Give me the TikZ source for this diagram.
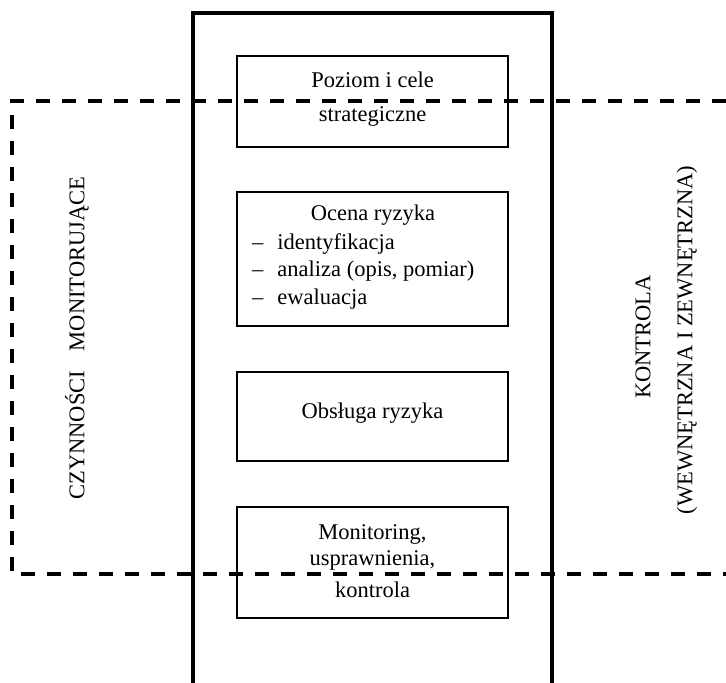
\documentclass[tikz,border=0pt]{standalone}
\usepackage{fontspec}
\setmainfont{Liberation Serif}
\usetikzlibrary{positioning}

\begin{document}
\begin{tikzpicture}[x=1pt, y=-1pt,
    etap/.style={draw, line width=1.9pt, minimum width=271pt, inner sep=0pt},
    opis/.style={inner sep=0pt, font=\fontsize{22.5}{26}\selectfont, align=center},
    ramka/.style={line width=3.8pt},
    strefa/.style={line width=4.2pt, dash pattern=on 14pt off 12pt}]
                \useasboundingbox (0,0) rectangle (726,683);
                % Pola procesu
                \node[etap, minimum height=91pt] (poziom) at (372.5,101.5) {};
                \node[etap, minimum height=134pt] (ocena) at (372.5,259) {};
                \node[etap, minimum height=89pt] (obsluga) at (372.5,416.5) {};
                \node[etap, minimum height=111pt] (monitoring) at (372.5,562.5) {};
                
                % Teksty w polach
                \node[opis] (poziomT) at (372.5,99) {Poziom i cele\\[8pt]strategiczne};
                \node[opis] (ocenaT) at (373,215) {Ocena ryzyka};
                \node[opis, align=left, anchor=west, font=\fontsize{22.5}{27.5}\selectfont] (ocenaL) at (252,271)
                    {--\hspace{14pt}identyfikacja\\--\hspace{14pt}analiza (opis, pomiar)\\--\hspace{14pt}ewaluacja};
                \node[opis] (obslugaT) at (372.5,413) {Obsługa ryzyka};
                \node[opis] (monitoringT) at (372.5,561) {Monitoring,\\usprawnienia,\\[6pt]kontrola};
                
                % Ramka zewnetrzna
                \coordinate (rLD) at (193,683);
                \coordinate (rLG) at (193,13);
                \coordinate (rPG) at (552,13);
                \coordinate (rPD) at (552,683);
                \draw[ramka] (rLD) -- (rLG) -- (rPG) -- (rPD);
                
                % Strefa przerywana
                \coordinate (sPG) at (726,101);
                \coordinate (sLG) at (12,101);
                \coordinate (sLD) at (12,574);
                \coordinate (sPD) at (726,574);
                \draw[strefa] (sPG) -- (sLG) -- (sLD) -- (sPD);
                
                % Opisy boczne
                \node[opis, rotate=90] (czynnosci) at (77,338) {CZYNNOŚCI\hspace{14pt} MONITORUJĄCE};
                \node[opis, rotate=90] (kontrola) at (643,337) {KONTROLA};
                \node[opis, rotate=90] (rodzaj) at (687,340) {(WEWNĘTRZNA I ZEWNĘTRZNA)};
                
            \end{tikzpicture}
\end{document}
